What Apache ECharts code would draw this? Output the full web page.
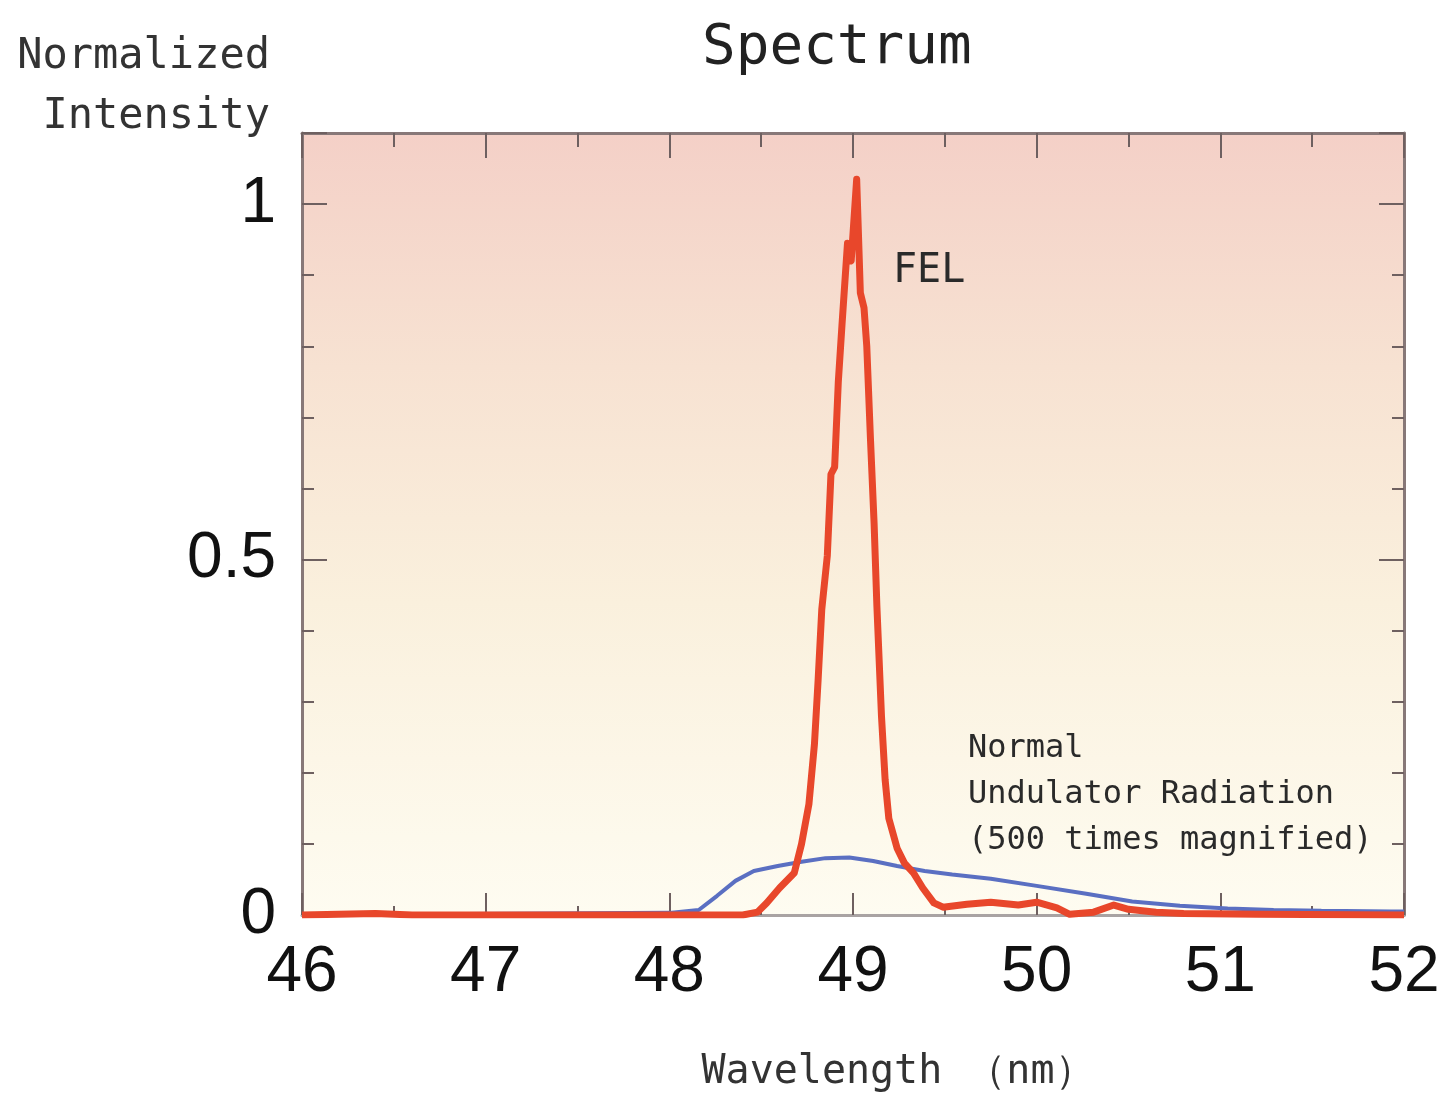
<!DOCTYPE html>
<html>
<head>
<meta charset="utf-8">
<title>Spectrum</title>
<script src="https://cdn.jsdelivr.net/npm/echarts@6/dist/echarts.min.js"></script>
<style>
  html, body { margin: 0; padding: 0; background: #ffffff; }
  #chart { width: 1443px; height: 1098px; }
</style>
</head>
<body>
<div id="chart"></div>
<script>
// FEL spectrum (normalized)
const felWavelength = [
  46.0, 46.4, 46.6, 48.0, 48.40, 48.48, 48.53, 48.60, 48.68, 48.72, 48.76, 48.79,
  48.81, 48.83, 48.86, 48.88, 48.90, 48.92, 48.94, 48.97, 48.99, 49.02, 49.04,
  49.06, 49.075, 49.095, 49.115, 49.13, 49.155, 49.175, 49.195, 49.24, 49.28, 49.33,
  49.38, 49.44, 49.49, 49.62, 49.75, 49.90, 50.00, 50.11, 50.18, 50.31, 50.42,
  50.50, 50.65, 50.80, 51.20, 52.0
];
const felIntensity = [
  0, 0.002, 0, 0, 0, 0.004, 0.017, 0.038, 0.059, 0.10, 0.156, 0.24,
  0.33, 0.43, 0.505, 0.62, 0.63, 0.75, 0.83, 0.945, 0.92, 1.035, 0.875,
  0.854, 0.80, 0.67, 0.55, 0.435, 0.28, 0.19, 0.136, 0.094, 0.073, 0.059,
  0.038, 0.017, 0.011, 0.015, 0.018, 0.014, 0.018, 0.010, 0.001, 0.004, 0.014,
  0.008, 0.004, 0.002, 0.001, 0
];

// Normal undulator radiation (x500)
const undWavelength = [
  46.0, 48.0, 48.16, 48.26, 48.36, 48.46, 48.59, 48.72, 48.85, 48.98, 49.11,
  49.24, 49.39, 49.54, 49.75, 50.00, 50.27, 50.52, 50.78, 51.04, 51.29, 51.55, 51.93, 52.0
];
const undIntensity = [
  0, 0.003, 0.007, 0.027, 0.048, 0.062, 0.069, 0.075, 0.080, 0.081, 0.076,
  0.069, 0.062, 0.057, 0.051, 0.041, 0.030, 0.019, 0.013, 0.009, 0.007, 0.006, 0.005, 0.005
];

// Axis settings
const xMin = 46, xMax = 52, xStep = 1;
const yMin = 0, yMax = 1.1, yMajor = 0.5, yMinor = 0.1;
const yTickLabels = { '0': '0', '0.5': '0.5', '1': '1' };

const felData = felWavelength.map((w, i) => [w, felIntensity[i]]);
const undData = undWavelength.map((w, i) => [w, undIntensity[i]]);

const frameColor = '#877878';
const tickColor = '#6e6060';
const monoFont = '"DejaVu Sans Mono", "Liberation Mono", monospace';

const chart = echarts.init(document.getElementById('chart'), null, { renderer: 'canvas' });

function yAxisDef(position, major, showLabel) {
  return {
    type: 'value',
    position: position,
    min: yMin,
    max: yMax,
    interval: major ? yMajor : yMinor,
    axisLine: { show: major, onZero: false, lineStyle: { color: frameColor, width: 3 } },
    axisTick: {
      show: true, inside: true, length: major ? 25 : 12,
      lineStyle: { color: tickColor, width: 2 }
    },
    axisLabel: {
      show: showLabel,
      margin: 26,
      fontFamily: '"Liberation Sans", Arial, sans-serif',
      fontSize: 64,
      color: '#111',
      formatter: v => {
        const key = String(Math.round(v * 10) / 10);
        return yTickLabels[key] !== undefined ? yTickLabels[key] : '';
      }
    },
    splitLine: { show: false }
  };
}

const option = {
  backgroundColor: '#ffffff',
  animation: false,
  title: {
    text: 'Spectrum',
    left: 697,
    top: 15,
    textStyle: { fontFamily: monoFont, fontSize: 56, fontWeight: 'normal', color: '#222' }
  },
  grid: {
    left: 302, right: 39, top: 133, bottom: 182,
    show: true,
    borderWidth: 0,
    backgroundColor: new echarts.graphic.LinearGradient(0, 0, 0, 1, [
      { offset: 0, color: '#f4d0c7' },
      { offset: 0.3, color: '#f7e2d2' },
      { offset: 0.6, color: '#faf0dd' },
      { offset: 1, color: '#fefcf1' }
    ])
  },
  xAxis: [
    {
      type: 'value', position: 'bottom', min: xMin, max: xMax, interval: xStep,
      name: 'Wavelength （nm）',
      nameLocation: 'middle',
      nameGap: 138,
      nameTextStyle: { fontFamily: monoFont, fontSize: 40, color: '#333', padding: [0, 0, 0, 90] },
      axisLine: { show: true, onZero: false, lineStyle: { color: '#a9a3a3', width: 3 } },
      axisTick: { show: true, inside: true, length: 22, lineStyle: { color: tickColor, width: 2 } },
      minorTick: { show: true, splitNumber: 2, length: 9, lineStyle: { color: tickColor, width: 2 } },
      axisLabel: {
        margin: 26,
        fontFamily: '"Liberation Sans", Arial, sans-serif',
        fontSize: 64,
        color: '#111'
      },
      splitLine: { show: false }
    },
    {
      type: 'value', position: 'top', min: xMin, max: xMax, interval: xStep,
      axisLine: { show: true, onZero: false, lineStyle: { color: frameColor, width: 3 } },
      axisTick: { show: true, inside: true, length: 25, lineStyle: { color: tickColor, width: 2 } },
      minorTick: { show: true, splitNumber: 2, length: 14, lineStyle: { color: tickColor, width: 2 } },
      axisLabel: { show: false },
      splitLine: { show: false }
    }
  ],
  yAxis: [
    Object.assign(yAxisDef('left', true, true), {
      name: 'Normalized\nIntensity',
      nameLocation: 'end',
      nameGap: -14,
      nameTextStyle: {
        fontFamily: monoFont, fontSize: 42, color: '#333', lineHeight: 60,
        align: 'right', verticalAlign: 'bottom', padding: [0, 32, 0, 0]
      }
    }),
    yAxisDef('left', false, false),
    yAxisDef('right', true, false),
    yAxisDef('right', false, false)
  ],
  graphic: [
    {
      type: 'text', left: 893, top: 252, z: 10,
      style: { text: 'FEL', font: '40px ' + monoFont, fill: '#2a2a2a' }
    },
    {
      type: 'text', left: 968, top: 726, z: 10,
      style: {
        text: 'Normal\nUndulator Radiation\n(500 times magnified)',
        font: '32px ' + monoFont, lineHeight: 46, fill: '#2a2a2a'
      }
    }
  ],
  series: [
    {
      name: 'Normal Undulator Radiation',
      type: 'line',
      xAxisIndex: 0, yAxisIndex: 0,
      data: undData,
      showSymbol: false,
      z: 3,
      lineStyle: { color: '#5a6fc2', width: 4 }
    },
    {
      name: 'FEL',
      type: 'line',
      xAxisIndex: 0, yAxisIndex: 0,
      data: felData,
      showSymbol: false,
      z: 4,
      lineStyle: { color: '#e8472b', width: 7, join: 'round' }
    }
  ]
};

chart.setOption(option);
</script>
</body>
</html>
